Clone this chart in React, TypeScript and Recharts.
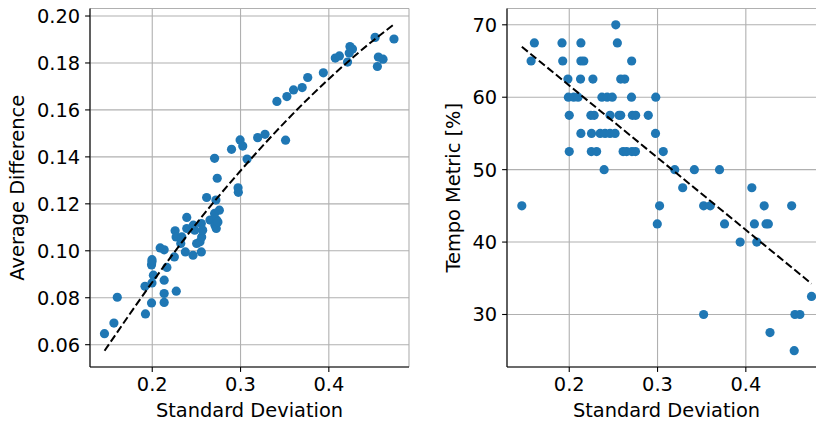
import React from 'react'
import {
  ScatterChart,
  Scatter,
  XAxis,
  YAxis,
  CartesianGrid,
} from 'recharts'

// Standard deviation vs. average difference
const stdDiff = [
  0.1459, 0.1566, 0.1604, 0.1923, 0.1918, 0.1992, 0.1997, 0.2013, 0.1992, 0.1997,
  0.1997, 0.2090, 0.2135, 0.2135, 0.2135, 0.2135, 0.2166, 0.2272, 0.2250, 0.2259,
  0.2270, 0.2323, 0.2335, 0.2375, 0.2391, 0.2391, 0.2465, 0.2462, 0.2481, 0.2503,
  0.2541, 0.2556, 0.2560, 0.2571, 0.2556, 0.2616, 0.2654, 0.2710, 0.2725, 0.2729,
  0.2744, 0.2706, 0.2760, 0.2721, 0.2736, 0.2706, 0.2898, 0.2972, 0.2975, 0.2995,
  0.3025, 0.3074, 0.3194, 0.3277, 0.3412, 0.3510, 0.3525, 0.3600, 0.3698, 0.3761,
  0.3938, 0.4073, 0.4120, 0.4212, 0.4231, 0.4239, 0.4268, 0.4524, 0.4550, 0.4561,
  0.4614, 0.4738,
]
const avgDiff = [
  0.0647, 0.0692, 0.0802, 0.0731, 0.0849, 0.0778, 0.0863, 0.0896, 0.0940, 0.0953,
  0.0962, 0.1012, 0.1004, 0.0875, 0.0818, 0.0780, 0.0929, 0.0828, 0.0974, 0.1085,
  0.1059, 0.1031, 0.1059, 0.0995, 0.1142, 0.1095, 0.1109, 0.0981, 0.1088, 0.1031,
  0.1038, 0.0995, 0.1059, 0.1088, 0.1116, 0.1227, 0.1131, 0.1109, 0.1095, 0.1131,
  0.1123, 0.1159, 0.1173, 0.1216, 0.1309, 0.1394, 0.1432, 0.1268, 0.1249, 0.1472,
  0.1446, 0.1391, 0.1482, 0.1496, 0.1636, 0.1471, 0.1657, 0.1685, 0.1695, 0.1738,
  0.1758, 0.1821, 0.1830, 0.1804, 0.1842, 0.1870, 0.1859, 0.1909, 0.1785, 0.1825,
  0.1816, 0.1902,
]

// Standard deviation vs. tempo metric
const stdTempo = [
  0.2527,
  0.1605, 0.1918, 0.2132, 0.2545,
  0.1568, 0.1926, 0.2132, 0.2165, 0.2707,
  0.1985, 0.2128, 0.2268, 0.2583, 0.2628,
  0.1990, 0.2050, 0.2100, 0.2370, 0.2430, 0.2487, 0.2705, 0.2980,
  0.2000, 0.2245, 0.2282, 0.2462, 0.2564, 0.2583, 0.2715, 0.2752, 0.2895,
  0.2132, 0.2252, 0.2350, 0.2406, 0.2462, 0.2519, 0.2977,
  0.2000, 0.2250, 0.2310, 0.2610, 0.2650, 0.2710, 0.2750, 0.3065,
  0.2395, 0.3195, 0.3417, 0.3702,
  0.3285, 0.4068,
  0.1463, 0.3023, 0.3522, 0.3597, 0.4208, 0.4519,
  0.2997, 0.3759, 0.4097, 0.4229, 0.4255,
  0.3936, 0.4124,
  0.4744,
  0.3522, 0.4556, 0.4612,
  0.4274,
  0.4548,
]
const tempo = [
  70,
  67.5, 67.5, 67.5, 67.5,
  65, 65, 65, 65, 65,
  62.5, 62.5, 62.5, 62.5, 62.5,
  60, 60, 60, 60, 60, 60, 60, 60,
  57.5, 57.5, 57.5, 57.5, 57.5, 57.5, 57.5, 57.5, 57.5,
  55, 55, 55, 55, 55, 55, 55,
  52.5, 52.5, 52.5, 52.5, 52.5, 52.5, 52.5, 52.5,
  50, 50, 50, 50,
  47.5, 47.5,
  45, 45, 45, 45, 45, 45,
  42.5, 42.5, 42.5, 42.5, 42.5,
  40, 40,
  32.5,
  30, 30, 30,
  27.5,
  25,
]

// trend curves
const fitDiffX = [0.146, 0.2, 0.25, 0.3, 0.35, 0.4, 0.45, 0.474]
const fitDiffY = [0.0574, 0.0866, 0.1116, 0.1341, 0.1547, 0.1732, 0.1895, 0.1965]
const fitTempoX = [0.1463, 0.4744]
const fitTempoY = [66.97, 34.26]

const xTicks = [0.2, 0.3, 0.4]
const diffTicks = [0.06, 0.08, 0.1, 0.12, 0.14, 0.16, 0.18, 0.2]
const tempoTicks = [30, 40, 50, 60, 70]

const X_DOMAIN: [number, number] = [0.1295, 0.4908]
const DIFF_DOMAIN: [number, number] = [0.0505, 0.2032]
const TEMPO_DOMAIN: [number, number] = [22.75, 72.25]

const FONT = '"DejaVu Sans", sans-serif'
const FONT_SIZE = 19.4
const BLUE = '#1f77b4'

const zip = (xs: number[], ys: number[]) => xs.map((x, i) => ({ x, y: ys[i] }))

const dot = (p: any) => <circle cx={p.cx} cy={p.cy} r={4.6} fill={BLUE} />
const noDot = () => <g />

const tickStyle = { fill: '#000', fontSize: FONT_SIZE, fontFamily: FONT }
const labelStyle = { fill: '#000', fontSize: FONT_SIZE, fontFamily: FONT, textAnchor: 'middle' as const }

interface PanelProps {
  points: { x: number; y: number }[]
  fit: { x: number; y: number }[]
  yDomain: [number, number]
  yTicks: number[]
  yFormat: (v: number) => string
  yLabel: string
  yLabelOffset: number
}

function Panel({ points, fit, yDomain, yTicks, yFormat, yLabel, yLabelOffset }: PanelProps) {
  return (
    <ScatterChart width={420} height={424} margin={{ top: 8.5, right: 11, bottom: 0, left: 0 }}>
      <CartesianGrid stroke="#b0b0b0" strokeWidth={1.1} />
      <XAxis
        type="number"
        dataKey="x"
        domain={X_DOMAIN}
        allowDataOverflow
        ticks={xTicks}
        tickFormatter={(v: number) => String(v)}
        height={57}
        tickSize={4.9}
        tickMargin={4.9}
        tick={tickStyle}
        tickLine={{ stroke: '#000', strokeWidth: 1.1 }}
        axisLine={{ stroke: '#000', strokeWidth: 1.1 }}
        label={{ value: 'Standard Deviation', position: 'insideBottom', offset: 7, style: labelStyle }}
      />
      <YAxis
        type="number"
        dataKey="y"
        domain={yDomain}
        allowDataOverflow
        ticks={yTicks}
        tickFormatter={yFormat}
        width={90}
        tickSize={4.9}
        tickMargin={4.9}
        tick={tickStyle}
        tickLine={{ stroke: '#000', strokeWidth: 1.1 }}
        axisLine={{ stroke: '#000', strokeWidth: 1.1 }}
        label={{ value: yLabel, angle: -90, position: 'insideLeft', offset: yLabelOffset, style: labelStyle }}
      />
      {/* top and right spines */}
      <XAxis
        xAxisId="top"
        orientation="top"
        type="number"
        domain={X_DOMAIN}
        height={0}
        tick={false}
        tickLine={false}
        axisLine={{ stroke: '#000', strokeWidth: 1.1 }}
      />
      <YAxis
        yAxisId="right"
        orientation="right"
        type="number"
        domain={yDomain}
        width={0}
        tick={false}
        tickLine={false}
        axisLine={{ stroke: '#000', strokeWidth: 1.1 }}
      />
      <Scatter data={points} shape={dot} isAnimationActive={false} />
      <Scatter
        data={fit}
        shape={noDot}
        line={{ stroke: '#000', strokeWidth: 2, strokeDasharray: '7.7 3.3' }}
        lineJointType="monotoneX"
        isAnimationActive={false}
      />
    </ScatterChart>
  )
}

export default function App() {
  return (
    <div
      style={{
        position: 'fixed',
        left: 0,
        top: 0,
        width: 816,
        height: 424,
        overflow: 'hidden',
        background: '#fff',
      }}
    >
      <div style={{ position: 'absolute', left: 0, top: 0 }}>
        <Panel
          points={zip(stdDiff, avgDiff)}
          fit={zip(fitDiffX, fitDiffY)}
          yDomain={DIFF_DOMAIN}
          yTicks={diffTicks}
          yFormat={(v) => v.toFixed(2)}
          yLabel="Average Difference"
          yLabelOffset={17.6}
        />
      </div>
      <div style={{ position: 'absolute', left: 416.5, top: 0 }}>
        <Panel
          points={zip(stdTempo, tempo)}
          fit={zip(fitTempoX, fitTempoY)}
          yDomain={TEMPO_DOMAIN}
          yTicks={tempoTicks}
          yFormat={(v) => String(v)}
          yLabel="Tempo Metric [%]"
          yLabelOffset={36.3}
        />
      </div>
    </div>
  )
}
